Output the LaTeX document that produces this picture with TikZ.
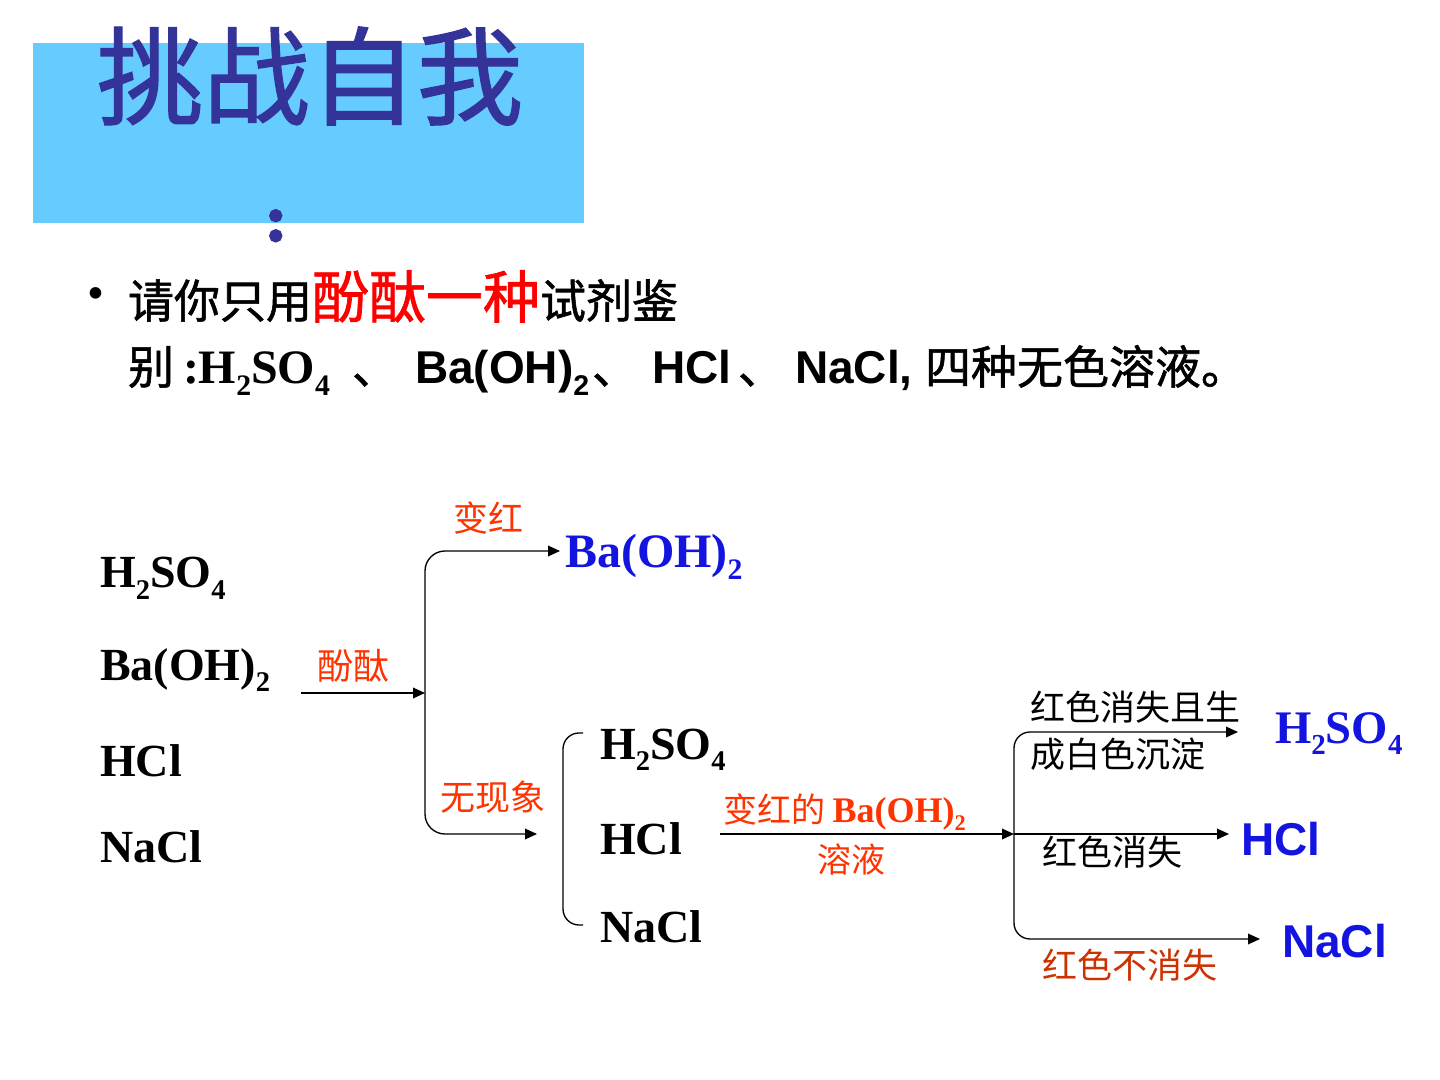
\documentclass[tikz,border=0pt]{standalone}
\usepackage{fontspec}
\setmainfont{Liberation Serif}
\newfontfamily\cjk{Noto Sans CJK SC}
\newfontfamily\cjkb{Noto Sans CJK SC}[FakeBold=1.2]
\newfontfamily\cjkt{Noto Sans CJK SC}[FakeBold=1.2]
\newfontfamily\arialf{Liberation Sans}
\newfontfamily\colonf{Liberation Serif}[FakeBold=5]
\usetikzlibrary{arrows.meta}
\newcommand\fsz[1]{\fontsize{#1}{#1}\selectfont}
\newcommand\sbs[1]{\raisebox{-0.24em}{\scalebox{0.62}{#1}}}
\definecolor{titleblue}{RGB}{51,51,153}
\definecolor{boxblue}{RGB}{102,204,255}
\definecolor{labred}{RGB}{255,51,0}
\definecolor{darkred}{RGB}{204,51,0}
\definecolor{resblue}{RGB}{20,20,225}
\definecolor{keyred}{RGB}{255,0,0}
\begin{document}
\begin{tikzpicture}[x=0.75pt,y=-0.75pt,
  txt/.style={inner sep=0pt, outer sep=0pt},
  bw/.style={txt, anchor=base west},
  chem/.style={bw, font={\bfseries\fsz{34.5}}},
  arialb/.style={bw, font={\arialf\bfseries\fsz{34.5}}},
  cjkbig/.style={bw, font={\cjkb\fsz{34.5}}},
  lab/.style={txt, font={\cjk\fsz{26.25}}},
  arr/.style={line width=1pt, -{Triangle[length=9pt,width=8pt]}},
  plain/.style={line width=1pt}]
\path[use as bounding box, fill=white] (0,0) rectangle (1440,1080);

% title
\fill[boxblue] (33,43) rectangle (584,223);
\node[txt, text=titleblue, font={\cjkt\fsz{80}}] (title) at (310,76) {挑战自我};
\node[txt, anchor=base, text=titleblue, font={\colonf\bfseries\fsz{47}}] (colon) at (276,240) {:};

% bullet text
\node[txt, font={\arialf\fsz{32}}] (bul) at (96,298) {•};
\node[cjkbig] (l1) at (128,318) {请你只用{\color{keyred}\fsz{42.75}酚酞一种}试剂鉴};
\node[cjkbig] (l2a) at (128,384) {别};
\node[chem, font={\bfseries\fsz{36}}] (l2b) at (183,384) {:H\sbs{2}SO\sbs{4}};
\node[cjkbig] (l2c) at (352,384) {、};
\node[arialb] (l2d) at (415,384) {Ba(OH)\sbs{2}};
\node[cjkbig] (l2e) at (592,384) {、};
\node[arialb] (l2f) at (652,384) {HCl};
\node[cjkbig] (l2g) at (738,384) {、};
\node[arialb] (l2h) at (795,384) {NaCl,};
\node[cjkbig] (l2i) at (925,384) {四种无色溶液。};

% left list
\node[chem] (s1) at (100,588) {H\sbs{2}SO\sbs{4}};
\node[chem] (s2) at (100,680) {Ba(OH)\sbs{2}};
\node[chem] (s3) at (100,776) {HCl};
\node[chem] (s4) at (100,862) {NaCl};

% first split
\coordinate (a0) at (301,693);
\coordinate (j1) at (425,693);
\coordinate (t1) at (560,551);
\coordinate (t2) at (537,834);
\draw[arr] (a0) -- (j1);
\draw[arr, rounded corners=15pt] (j1) |- (t1);
\draw[arr, rounded corners=15pt] (j1) |- (t2);
\node[lab, text=labred, font={\cjk\fsz{27}}] (phen) at (353,666) {酚酞};
\node[lab, text=labred] (red1) at (488,518) {变红};
\node[lab, text=labred] (none1) at (493,797) {无现象};
\node[chem, text=resblue, font={\bfseries\fsz{36}}] (bares) at (565,568) {Ba(OH)\sbs{2}};

% bracket and middle list
\draw[plain, rounded corners=12pt] (583,733) -| (563,829) |- (583,925);
\node[chem] (m1) at (600,759) {H\sbs{2}SO\sbs{4}};
\node[chem] (m2) at (600,854) {HCl};
\node[chem] (m3) at (600,942) {NaCl};

% second arrow
\coordinate (b0) at (720,834);
\coordinate (j2) at (1014,834);
\draw[arr] (b0) -- (j2);
\node[bw, text=labred, font={\cjk\fsz{25.5}}] (red2) at (723,822) {变红的 {\rmfamily\bfseries\fsz{27}Ba(OH)\sbs{2}}};
\node[lab, text=labred, font={\cjk\fsz{25.5}}] (sol) at (851,859) {溶液};

% right split
\coordinate (r1) at (1238,732);
\coordinate (r2) at (1229,834);
\coordinate (r3) at (1260,939);
\draw[arr, rounded corners=12pt] (j2) |- (r1);
\draw[arr] (j2) -- (r2);
\draw[arr, rounded corners=12pt] (j2) |- (r3);
\node[bw, font={\cjk\fsz{26.25}}] (c1a) at (1030,720) {红色消失且生};
\node[bw, font={\cjk\fsz{26.25}}] (c1b) at (1030,767) {成白色沉淀};
\node[bw, font={\cjk\fsz{26.25}}] (c2) at (1042,865) {红色消失};
\node[bw, text=darkred, font={\cjk\fsz{26.25}}] (c3) at (1042,978) {红色不消失};

% results
\node[chem, text=resblue, font={\bfseries\fsz{35}}] (res1) at (1275,743) {H\sbs{2}SO\sbs{4}};
\node[arialb, text=resblue] (res2) at (1241,855) {HCl};
\node[arialb, text=resblue] (res3) at (1282,957) {NaCl};
\end{tikzpicture}
\end{document}
